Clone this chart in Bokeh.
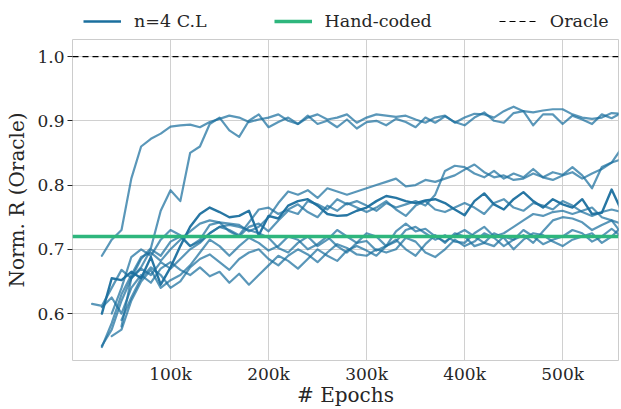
import numpy as np
from bokeh.plotting import figure
from bokeh.layouts import column
from bokeh.models import Legend, LegendItem, Span, FixedTicker, Range1d
from bokeh.embed import file_html
from bokeh.resources import INLINE

nan = np.nan

# ---------------- data ----------------
epochs = list(range(20000, 560001, 10000))  # 20k ... 560k (55 samples)

run_a = [nan, 0.690, 0.715, 0.730, 0.810, 0.860, 0.872, 0.880, 0.891, 0.893,
         0.894, 0.890, 0.898, 0.903, 0.908, 0.905, 0.898, 0.902, 0.905, 0.910,
         0.900, 0.895, 0.905, 0.910, 0.902, 0.905, 0.910, 0.897, 0.905, 0.910,
         0.908, 0.906, 0.908, 0.902, 0.897, 0.905, 0.908, 0.897, 0.905, 0.911,
         0.910, 0.905, 0.915, 0.922, 0.915, 0.913, 0.916, 0.918, 0.918, 0.910,
         0.905, 0.903, 0.905, 0.912, 0.911]
run_b = [nan, nan, nan, 0.580, 0.655, 0.685, 0.702, 0.760, 0.792, 0.775,
         0.850, 0.860, 0.895, 0.905, 0.885, 0.875, 0.900, 0.910, 0.890, 0.898,
         0.905, 0.895, 0.908, 0.895, 0.900, 0.890, 0.902, 0.888, 0.898, 0.900,
         0.893, 0.903, 0.898, 0.890, 0.905, 0.897, 0.907, 0.898, 0.893, 0.905,
         0.913, 0.900, 0.897, 0.912, 0.915, 0.893, 0.910, 0.910, 0.895, 0.908,
         0.902, 0.895, 0.910, 0.904, 0.912]
run_c = [nan, 0.600, 0.655, 0.652, 0.665, 0.655, 0.688, 0.645, 0.672, 0.705,
         0.735, 0.755, 0.765, 0.758, 0.750, 0.752, 0.760, 0.722, 0.752, 0.748,
         0.768, 0.775, 0.778, 0.768, 0.755, 0.752, 0.753, 0.760, 0.765, 0.775,
         0.783, 0.780, 0.775, 0.772, 0.776, 0.778, 0.772, 0.762, 0.753, 0.775,
         0.787, 0.770, 0.762, 0.778, 0.789, 0.775, 0.765, 0.778, 0.770, 0.765,
         0.778, 0.755, 0.757, 0.793, 0.760]
run_d = [0.615, 0.612, 0.640, 0.668, 0.655, 0.672, 0.700, 0.690, 0.712, 0.720,
         0.705, 0.715, 0.738, 0.742, 0.728, 0.720, 0.735, 0.740, 0.728, 0.745,
         0.760, 0.755, 0.775, 0.770, 0.762, 0.778, 0.770, 0.775, 0.768, 0.760,
         0.772, 0.765, 0.770, 0.775, 0.768, 0.785, 0.822, 0.830, 0.828, 0.818,
         0.812, 0.822, 0.810, 0.818, 0.812, 0.825, 0.812, 0.820, 0.816, 0.828,
         0.815, 0.795, 0.828, 0.835, 0.857]
run_e = [nan, 0.548, 0.585, 0.630, 0.660, 0.688, 0.695, 0.682, 0.700, 0.715,
         0.728, 0.740, 0.745, 0.742, 0.740, 0.738, 0.728, 0.735, 0.750, 0.772,
         0.790, 0.785, 0.792, 0.780, 0.795, 0.790, 0.785, 0.790, 0.795, 0.800,
         0.805, 0.810, 0.798, 0.800, 0.808, 0.805, 0.810, 0.815, 0.824, 0.832,
         0.820, 0.812, 0.815, 0.808, 0.810, 0.818, 0.812, 0.808, 0.815, 0.820,
         0.810, 0.818, 0.825, 0.835, 0.840]
run_f = [nan, nan, 0.600, 0.640, 0.688, 0.700, 0.690, 0.715, 0.730, 0.722,
         0.705, 0.712, 0.725, 0.735, 0.730, 0.722, 0.742, 0.762, 0.765, 0.755,
         0.762, 0.770, 0.758, 0.750, 0.768, 0.760, 0.772, 0.765, 0.758, 0.765,
         0.775, 0.762, 0.752, 0.768, 0.775, 0.762, 0.758, 0.765, 0.772, 0.765,
         0.755, 0.772, 0.778, 0.765, 0.760, 0.772, 0.768, 0.762, 0.775, 0.768,
         0.758, 0.752, 0.758, 0.762, 0.758]
run_g = [nan, 0.550, 0.575, 0.620, 0.655, 0.670, 0.660, 0.680, 0.670, 0.685,
         0.700, 0.710, 0.725, 0.735, 0.738, 0.735, 0.730, 0.725, 0.718, 0.702,
         0.695, 0.710, 0.720, 0.705, 0.715, 0.730, 0.720, 0.710, 0.725, 0.720,
         0.705, 0.712, 0.730, 0.735, 0.725, 0.715, 0.722, 0.712, 0.710, 0.725,
         0.735, 0.720, 0.725, 0.735, 0.745, 0.755, 0.752, 0.758, 0.760, 0.755,
         0.760, 0.765, 0.750, 0.745, 0.740]
run_h = [nan, nan, 0.565, 0.575, 0.620, 0.650, 0.668, 0.640, 0.652, 0.660,
         0.675, 0.695, 0.715, 0.705, 0.690, 0.705, 0.718, 0.710, 0.698, 0.705,
         0.720, 0.715, 0.700, 0.708, 0.720, 0.705, 0.695, 0.710, 0.713, 0.698,
         0.705, 0.728, 0.740, 0.728, 0.732, 0.720, 0.712, 0.722, 0.730, 0.720,
         0.710, 0.705, 0.720, 0.715, 0.722, 0.710, 0.728, 0.745, 0.750, 0.748,
         0.742, 0.730, 0.738, 0.745, 0.725]
run_i = [nan, 0.610, 0.625, 0.600, 0.640, 0.660, 0.648, 0.670, 0.680, 0.668,
         0.660, 0.672, 0.658, 0.665, 0.648, 0.662, 0.645, 0.660, 0.675, 0.690,
         0.682, 0.670, 0.685, 0.700, 0.690, 0.682, 0.698, 0.705, 0.698, 0.690,
         0.705, 0.715, 0.700, 0.690, 0.708, 0.722, 0.710, 0.725, 0.720, 0.705,
         0.710, 0.725, 0.718, 0.700, 0.715, 0.725, 0.722, 0.712, 0.705, 0.715,
         0.720, 0.725, 0.710, 0.720, 0.735]
run_j = [nan, nan, nan, 0.590, 0.625, 0.655, 0.672, 0.660, 0.640, 0.650,
         0.672, 0.685, 0.692, 0.680, 0.668, 0.685, 0.695, 0.700, 0.685, 0.675,
         0.690, 0.700, 0.692, 0.680, 0.695, 0.708, 0.702, 0.692, 0.690, 0.700,
         0.695, 0.700, 0.718, 0.712, 0.695, 0.688, 0.700, 0.715, 0.705, 0.712,
         0.725, 0.718, 0.705, 0.715, 0.730, 0.720, 0.708, 0.715, 0.720, 0.730,
         0.725, 0.712, 0.720, 0.732, 0.720]

light_runs = [run_a, run_b, run_d, run_e, run_f, run_g, run_h, run_i, run_j]
dark_run = run_c

hand_coded = 0.72
oracle = 1.0

x_ticks = [100000, 200000, 300000, 400000, 500000]
x_tick_labels = ["100k", "200k", "300k", "400k", "500k"]
y_ticks = [0.6, 0.7, 0.8, 0.9, 1.0]
y_tick_labels = ["0.6", "0.7", "0.8", "0.9", "1.0"]

legend_labels = ["n=4 C.L", "Hand-coded", "Oracle"]

# ---------------- styling ----------------
FONT = "DejaVu Serif"
BLUE = "#1b6f9e"
GREEN = "#2eb67d"
GRID = "#d0d0d0"
TEXT = "#262626"
W = 621

# ---------------- legend strip ----------------
# the strip's ranges exclude the data, so its lines only serve as legend keys
leg = figure(width=W, height=30, output_backend="svg", toolbar_location=None,
             x_range=Range1d(-2, -1), y_range=Range1d(-2, -1),
             x_axis_location=None, y_axis_location=None,
             min_border_left=72, min_border_right=3, min_border_top=0,
             min_border_bottom=0)
leg.outline_line_color = None
leg.grid.visible = False
key_blue = leg.line(epochs, dark_run, line_color=BLUE, line_width=2.4)
key_green = leg.line(epochs, [hand_coded] * len(epochs), line_color=GREEN,
                     line_width=3.5)
key_black = leg.line(epochs, [oracle] * len(epochs), line_color="black",
                     line_width=1.2, line_dash="6 4")
legend = Legend(items=[LegendItem(label=legend_labels[0], renderers=[key_blue]),
                       LegendItem(label=legend_labels[1], renderers=[key_green]),
                       LegendItem(label=legend_labels[2], renderers=[key_black])],
                orientation="horizontal", location="top_left",
                border_line_color=None, background_fill_alpha=0,
                label_text_font=FONT, label_text_font_size="17.5px",
                label_text_color=TEXT, glyph_width=38, glyph_height=18,
                label_height=18, label_standoff=13, spacing=67, padding=0,
                margin=11)
leg.add_layout(legend)

# ---------------- main plot ----------------
p = figure(width=W, height=379, output_backend="svg", toolbar_location=None,
           x_range=Range1d(0, 557000), y_range=Range1d(0.527, 1.0265),
           min_border_left=72, min_border_right=3, min_border_top=9,
           min_border_bottom=49)

p.background_fill_color = "white"
p.border_fill_color = "white"
p.outline_line_color = "#cccccc"
p.outline_line_width = 1

for run in light_runs:
    p.line(epochs, run, line_color=BLUE, line_alpha=0.72, line_width=2.2,
           line_join="round", line_cap="round")
p.line(epochs, dark_run, line_color=BLUE, line_alpha=0.95,
       line_width=2.4, line_join="round", line_cap="round")

p.add_layout(Span(location=hand_coded, dimension="width", line_color=GREEN,
                  line_width=3.6))
p.add_layout(Span(location=oracle, dimension="width", line_color="black",
                  line_width=1.2, line_dash="6 4"))

p.xaxis.ticker = FixedTicker(ticks=x_ticks)
p.xaxis.major_label_overrides = {t: l for t, l in zip(x_ticks, x_tick_labels)}
p.yaxis.ticker = FixedTicker(ticks=y_ticks)
p.yaxis.major_label_overrides = {t: l for t, l in zip(y_ticks, y_tick_labels)}

for ax in (p.xaxis, p.yaxis):
    ax.axis_line_color = None
    ax.major_tick_line_color = TEXT
    ax.major_tick_out = 5
    ax.major_tick_in = 0
    ax.minor_tick_line_color = None
    ax.major_label_text_font = FONT
    ax.major_label_text_font_size = "17px"
    ax.major_label_text_color = TEXT
    ax.axis_label_text_font = FONT
    ax.axis_label_text_font_size = "20px"
    ax.axis_label_text_font_style = "normal"
    ax.axis_label_text_color = TEXT

p.xaxis.major_tick_out = 0
p.xaxis.major_label_standoff = 3
p.yaxis.major_label_standoff = 3
p.xaxis.axis_label = "# Epochs"
p.yaxis.axis_label = "Norm. R (Oracle)"
p.xaxis.axis_label_standoff = -4
p.yaxis.axis_label_standoff = 5

p.xgrid.grid_line_color = GRID
p.ygrid.grid_line_color = GRID

layout = column(leg, p, spacing=0)
open("out.html", "w").write(file_html(layout, INLINE))
